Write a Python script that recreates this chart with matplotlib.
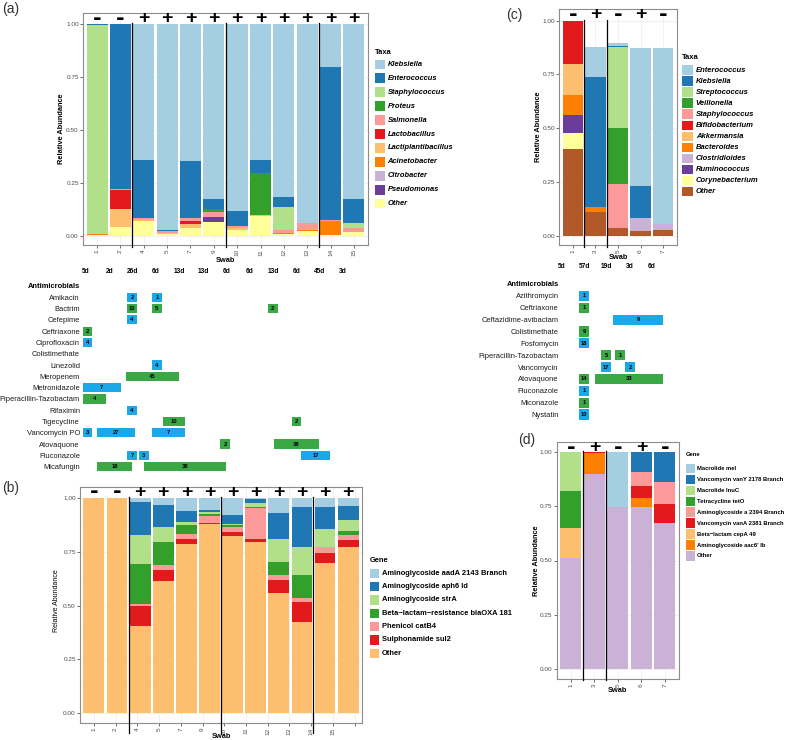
import numpy as np
import matplotlib
matplotlib.use("Agg")
import matplotlib.pyplot as plt
from matplotlib.patches import Rectangle
from matplotlib.transforms import blended_transform_factory

plt.rcParams['font.family'] = ['Liberation Sans', 'DejaVu Sans']

# ---------------- Panel (a) data ----------------
a_swabs = ["1", "2", "4", "5", "7", "9", "10", "11", "12", "13", "14", "15"]
a_signs = ["-", "-", "+", "+", "+", "+", "+", "+", "+", "+", "+", "+"]
a_days = ["5d", "2d", "26d", "6d", "13d", "13d", "6d", "6d", "13d", "6d", "45d", "3d"]
a_taxa = ["Klebsiella", "Enterococcus", "Staphylococcus", "Proteus", "Salmonella",
          "Lactobacillus", "Lactiplantibacillus", "Acinetobacter", "Citrobacter",
          "Pseudomonas", "Other"]
a_colors = ["#A6CEE3", "#1F78B4", "#B2DF8A", "#33A02C", "#FB9A99", "#E31A1C",
            "#FDBF6F", "#FF7F00", "#CAB2D6", "#6A3D9A", "#FFFF99"]
a_klebsiella = [0, 0, 0.643, 0.974, 0.647, 0.824, 0.882, 0.643, 0.817, 0.938, 0.200, 0.827]
a_enterococcus = [0.005, 0.778, 0.273, 0.002, 0.268, 0.047, 0.069, 0.061, 0.048, 0.002, 0.725, 0.110]
a_staphylococcus = [0.986, 0, 0, 0, 0, 0.004, 0, 0, 0.107, 0, 0, 0.025]
a_proteus = [0, 0, 0, 0, 0, 0.012, 0, 0.197, 0, 0, 0, 0]
a_salmonella = [0, 0.004, 0.008, 0.010, 0.013, 0.026, 0.014, 0, 0.012, 0.032, 0.004, 0.018]
a_lactobacillus = [0, 0.089, 0, 0, 0.017, 0, 0, 0, 0, 0, 0, 0]
a_lactiplantibacillus = [0, 0.086, 0.006, 0.006, 0.018, 0, 0.007, 0.005, 0, 0, 0, 0]
a_acinetobacter = [0.006, 0, 0, 0, 0, 0, 0, 0, 0.006, 0.006, 0.066, 0]
a_citrobacter = [0, 0, 0, 0, 0, 0, 0, 0, 0, 0, 0, 0]
a_pseudomonas = [0, 0, 0, 0, 0, 0.019, 0, 0, 0, 0, 0, 0]
a_other = [0.003, 0.043, 0.070, 0.008, 0.037, 0.068, 0.028, 0.094, 0.010, 0.022, 0.005, 0.020]

# Antimicrobial timeline (a): positions in swab-axis units
a_drugs = ["Amikacin", "Bactrim", "Cefepime", "Ceftriaxone", "Ciprofloxacin", "Colistimethate",
           "Linezolid", "Meropenem", "Metronidazole", "Piperacillin-Tazobactam", "Rifaximin",
           "Tigecycline", "Vancomycin PO", "Atovaquone", "Fluconazole", "Micafungin"]
a_tl_drug = ["Amikacin", "Amikacin", "Bactrim", "Bactrim", "Bactrim", "Cefepime", "Ceftriaxone",
             "Ciprofloxacin", "Linezolid", "Meropenem", "Metronidazole", "Piperacillin-Tazobactam",
             "Rifaximin", "Tigecycline", "Tigecycline", "Vancomycin PO", "Vancomycin PO",
             "Vancomycin PO", "Atovaquone", "Atovaquone", "Fluconazole", "Fluconazole",
             "Fluconazole", "Micafungin", "Micafungin"]
a_tl_start = [1.29, 2.35, 1.29, 2.35, 7.31, 1.29, -0.62, -0.62, 2.35, 1.24, -0.62, -0.62,
              1.29, 2.81, 8.33, -0.62, 0.01, 2.35, 5.27, 7.56, 1.29, 1.80, 8.75, 0.01, 2.00]
a_tl_end = [1.71, 2.77, 1.71, 2.77, 7.73, 1.71, -0.20, -0.20, 2.77, 3.49, 1.03, 0.40,
            1.71, 3.75, 8.75, -0.20, 1.62, 3.75, 5.70, 9.52, 1.71, 2.22, 9.98, 1.50, 5.53]
a_tl_dose = ["2", "1", "10", "5", "2", "4", "2", "4", "4", "45", "7", "4", "4", "10", "2",
             "3", "27", "7", "2", "38", "7", "3", "17", "18", "38"]
a_tl_kind = ["b", "b", "g", "g", "g", "b", "g", "b", "b", "g", "b", "g", "b", "g", "g",
             "b", "b", "b", "g", "g", "b", "b", "b", "g", "g"]

# ---------------- Panel (b) data ----------------
b_swabs = a_swabs
b_tick_labels = ["1", "2", "4", "5", "7", "9", "10", "11", "12", "13", "14", "15", ""]
b_genes = ["Aminoglycoside aadA 2143 Branch", "Aminoglycoside aph6 Id", "Aminoglycoside strA",
           "Beta\u2212lactam\u2212resistance blaOXA 181", "Phenicol catB4", "Sulphonamide sul2", "Other"]
b_colors = ["#A6CEE3", "#1F78B4", "#B2DF8A", "#33A02C", "#FB9A99", "#E31A1C", "#FDBF6F"]
b_aadA = [0, 0, 0.017, 0.030, 0.061, 0.055, 0.079, 0.003, 0.070, 0.042, 0.042, 0.036]
b_aph6 = [0, 0, 0.154, 0.106, 0.051, 0.010, 0.041, 0.020, 0.120, 0.185, 0.103, 0.065]
b_strA = [0, 0, 0.136, 0.070, 0.011, 0.010, 0.004, 0.019, 0.109, 0.130, 0.081, 0.052]
b_blaOXA = [0, 0, 0.187, 0.106, 0.044, 0.008, 0.008, 0.002, 0.061, 0.110, 0.000, 0.017]
b_catB4 = [0, 0, 0.010, 0.023, 0.025, 0.034, 0.027, 0.146, 0.019, 0.016, 0.028, 0.026]
b_sul2 = [0, 0, 0.092, 0.050, 0.023, 0.005, 0.019, 0.013, 0.062, 0.096, 0.050, 0.033]
b_other = [1.0, 1.0, 0.404, 0.615, 0.785, 0.878, 0.822, 0.797, 0.559, 0.421, 0.696, 0.771]

# ---------------- Panel (c) data ----------------
c_swabs = ["1", "3", "5", "6", "7"]
c_signs = ["-", "+", "-", "+", "-"]
c_days = ["5d", "57d", "19d", "3d", "6d"]
c_taxa = ["Enterococcus", "Klebsiella", "Streptococcus", "Veillonella", "Staphylococcus",
          "Bifidobacterium", "Akkermansia", "Bacteroides", "Clostridioides", "Ruminococcus",
          "Corynebacterium", "Other"]
c_colors = ["#A6CEE3", "#1F78B4", "#B2DF8A", "#33A02C", "#FB9A99", "#E31A1C", "#FDBF6F",
            "#FF7F00", "#CAB2D6", "#6A3D9A", "#FFFF99", "#B15928"]
c_enterococcus = [0, 0.140, 0.012, 0.643, 0.821]
c_klebsiella = [0, 0.604, 0.004, 0.147, 0]
c_streptococcus = [0, 0, 0.378, 0, 0]
c_veillonella = [0, 0, 0.262, 0, 0]
c_staphylococcus = [0, 0, 0.203, 0, 0]
c_bifidobacterium = [0.203, 0, 0, 0, 0]
c_akkermansia = [0.141, 0, 0, 0, 0]
c_bacteroides = [0.096, 0.022, 0, 0, 0]
c_clostridioides = [0, 0, 0, 0.062, 0.027]
c_ruminococcus = [0.081, 0, 0, 0, 0]
c_corynebacterium = [0.077, 0, 0, 0, 0]
c_other = [0.402, 0.110, 0.036, 0.022, 0.026]

c_drugs = ["Azithromycin", "Ceftriaxone", "Ceftazidime-avibactam", "Colistimethate", "Fosfomycin",
           "Piperacillin-Tazobactam", "Vancomycin", "Atovaquone", "Fluconazole", "Miconazole", "Nystatin"]
c_tl_drug = ["Azithromycin", "Ceftriaxone", "Ceftazidime-avibactam", "Colistimethate", "Fosfomycin",
             "Piperacillin-Tazobactam", "Piperacillin-Tazobactam", "Vancomycin", "Vancomycin",
             "Atovaquone", "Atovaquone", "Fluconazole", "Miconazole", "Nystatin"]
c_tl_start = [0.29, 0.29, 1.79, 0.29, 0.29, 1.26, 1.86, 1.26, 2.33, 0.29, 0.97, 0.29, 0.29, 0.29]
c_tl_end = [0.73, 0.73, 4.01, 0.73, 0.73, 1.70, 2.30, 1.70, 2.77, 0.73, 4.01, 0.73, 0.73, 0.73]
c_tl_dose = ["1", "1", "9", "9", "18", "5", "1", "17", "2", "14", "33", "1", "1", "10"]
c_tl_kind = ["b", "g", "b", "g", "b", "g", "g", "b", "b", "g", "g", "b", "g", "b"]

# ---------------- Panel (d) data ----------------
d_swabs = ["1", "3", "5", "6", "7"]
d_signs = ["-", "+", "-", "+", "-"]
d_genes = ["Macrolide mel", "Vancomycin vanY 2178 Branch", "Macrolide lnuC", "Tetracycline tetO",
           "Aminoglycoside a 2394 Branch", "Vancomycin vanA 2381 Branch", "Beta\u2212lactam cepA 49",
           "Aminoglycoside aac6' Ib", "Other"]
d_colors = ["#A6CEE3", "#1F78B4", "#B2DF8A", "#33A02C", "#FB9A99", "#E31A1C", "#FDBF6F",
            "#FF7F00", "#CAB2D6"]
d_mel = [0, 0, 0.253, 0, 0]
d_vanY = [0, 0, 0, 0.089, 0.139]
d_lnuC = [0.177, 0, 0, 0, 0]
d_tetO = [0.171, 0, 0, 0, 0]
d_a2394 = [0, 0, 0, 0.065, 0.100]
d_vanA = [0, 0.005, 0, 0.056, 0.088]
d_cepA = [0.142, 0, 0, 0, 0]
d_aac6 = [0, 0.095, 0, 0.043, 0]
d_other = [0.510, 0.900, 0.747, 0.747, 0.673]

kind_colors = {"b": "#1BA8E8", "g": "#39A845"}

# ---------------- Figure ----------------
W, H = 789, 740
fig = plt.figure(figsize=(W / 100, H / 100), dpi=100)


def px_axes(left, top, right, bottom):
    return fig.add_axes([left / W, 1 - bottom / H, (right - left) / W, (bottom - top) / H])


def stacked(ax, layers, colors):
    n = len(layers[0])
    x = np.arange(n)
    bottom = np.zeros(n)
    for vals, col in zip(layers, colors):
        v = np.array(vals, dtype=float)
        ax.bar(x, v, 0.9, bottom=bottom, color=col, linewidth=0, zorder=2)
        bottom += v


def style_bar_axes(ax, n, ylo, yhi, tick_pos, tick_labels):
    ax.set_xlim(-0.6, n - 0.4)
    ax.set_ylim(ylo, yhi)
    yt = [0, 0.25, 0.5, 0.75, 1.0]
    ax.set_yticks(yt)
    ax.set_yticklabels(["0.00", "0.25", "0.50", "0.75", "1.00"], fontsize=4.6, color="#4D4D4D")
    for y in yt:
        ax.axhline(y, color="#EBEBEB", lw=0.5, zorder=0)
    for y in [0.125, 0.375, 0.625, 0.875]:
        ax.axhline(y, color="#F3F3F3", lw=0.3, zorder=0)
    for xp in tick_pos:
        ax.axvline(xp, color="#EBEBEB", lw=0.5, zorder=0)
    ax.set_xticks(tick_pos)
    ax.set_xticklabels(tick_labels, rotation=90, fontsize=4.6, color="#4D4D4D")
    for s in ax.spines.values():
        s.set_color("#8C8C8C")
        s.set_linewidth(0.8)
    ax.tick_params(length=2.2, width=0.5, color="#333333", pad=0.8)


def signs(ax, sg, y):
    for i, s in enumerate(sg):
        if s == "+":
            ax.text(i, y, "+", fontsize=14, fontweight="bold", ha="center", va="center",
                    family="Liberation Sans", zorder=5)
        else:
            ax.text(i, y, "-", fontsize=15, fontweight="bold", ha="center", va="center",
                    family="DejaVu Sans", zorder=5)


def vlines(ax, xs, ylo):
    for xv in xs:
        ax.plot([xv, xv], [ylo, 1.005], color="black", lw=0.9, clip_on=False, zorder=4)


def axis_labels(ax, xl_y, yl_x, yl_y=0.5, ybold=True):
    ax.text(0.5, xl_y, "Swab", transform=ax.transAxes, ha="center", va="center",
            fontsize=5.3, fontweight="bold")
    ax.text(yl_x, yl_y, "Relative Abundance", transform=ax.transAxes, ha="center", va="center",
            rotation=90, fontsize=5.3 if ybold else 5.0,
            fontweight="bold" if ybold else "normal")


def day_labels(ax, days, offset, y):
    tr = blended_transform_factory(ax.transData, ax.transAxes)
    for i, d in enumerate(days):
        ax.text(i + offset, y, d, transform=tr, ha="center", va="center", fontsize=4.8,
                fontweight="bold", clip_on=False)


def draw_timeline(ax, drugs, tl_drug, tl_start, tl_end, tl_dose, tl_kind, xlim, ylim, pad, h):
    ax.set_xlim(xlim)
    ax.set_ylim(ylim)
    for d, s, e, lab, k in zip(tl_drug, tl_start, tl_end, tl_dose, tl_kind):
        r = drugs.index(d) + 1
        ax.add_patch(Rectangle((s, r - h / 2), e - s, h, facecolor=kind_colors[k],
                               edgecolor="none", clip_on=False))
        ax.text((s + e) / 2, r, lab, fontsize=4.2, fontweight="bold", ha="center", va="center")
    ax.set_yticks(range(len(drugs) + 1))
    ax.set_yticklabels(["Antimicrobials"] + drugs, fontsize=5.4, color="#1A1A1A")
    ax.get_yticklabels()[0].set_fontweight("bold")
    ax.get_yticklabels()[0].set_color("black")
    ax.tick_params(axis="y", length=0, pad=pad)
    ax.set_xticks([])
    for s in ax.spines.values():
        s.set_visible(False)
    ax.patch.set_alpha(0)


# ----- Panel (a) -----
axA = px_axes(83, 13, 368, 245)
stacked(axA, [a_other, a_pseudomonas, a_citrobacter, a_acinetobacter, a_lactiplantibacillus,
              a_lactobacillus, a_salmonella, a_proteus, a_staphylococcus, a_enterococcus,
              a_klebsiella], a_colors[::-1])
style_bar_axes(axA, len(a_swabs), -0.043, 1.053, list(range(len(a_swabs))), a_swabs)
signs(axA, a_signs, 1.025)
vlines(axA, [1.5, 5.5, 9.5], -0.052)
axis_labels(axA, -0.065, -0.074)
day_labels(axA, a_days, -0.47, -0.116)

tlA = px_axes(83, 280, 368, 472)
draw_timeline(tlA, a_drugs, a_tl_drug, a_tl_start, a_tl_end, a_tl_dose, a_tl_kind,
              (-0.6, len(a_swabs) - 0.4), (16.47, -0.53), 2.2, 0.82)

# ----- Panel (b) -----
axB = px_axes(80, 487.3, 362, 723.3)
stacked(axB, [b_other, b_sul2, b_catB4, b_blaOXA, b_strA, b_aph6, b_aadA], b_colors[::-1])
style_bar_axes(axB, len(b_swabs), -0.049, 1.051, list(np.arange(13) * 0.94), b_tick_labels)
signs(axB, a_signs, 1.028)
vlines(axB, [1.5, 5.5, 9.5], -0.095)
axis_labels(axB, -0.058, -0.082, 0.518, ybold=False)

# ----- Panel (c) -----
axC = px_axes(559.3, 9.3, 676.7, 245)
stacked(axC, [c_other, c_corynebacterium, c_ruminococcus, c_clostridioides, c_bacteroides,
              c_akkermansia, c_bifidobacterium, c_staphylococcus, c_veillonella,
              c_streptococcus, c_klebsiella, c_enterococcus], c_colors[::-1])
style_bar_axes(axC, len(c_swabs), -0.043, 1.053, list(range(len(c_swabs))), c_swabs)
signs(axC, c_signs, 1.027)
vlines(axC, [0.5, 1.5], -0.051)
axis_labels(axC, -0.054, -0.181)
day_labels(axC, c_days, -0.5, -0.092)

tlC = px_axes(559.3, 278, 676.7, 420)
draw_timeline(tlC, c_drugs, c_tl_drug, c_tl_start, c_tl_end, c_tl_dose, c_tl_kind,
              (-0.6, len(c_swabs) - 0.4), (11.46, -0.505), 0.5, 0.85)

# ----- Panel (d) -----
axD = px_axes(556.7, 441.7, 679, 679.3)
stacked(axD, [d_other, d_aac6, d_cepA, d_vanA, d_a2394, d_tetO, d_lnuC, d_vanY, d_mel],
        d_colors[::-1])
style_bar_axes(axD, len(d_swabs), -0.049, 1.049, list(range(len(d_swabs))), d_swabs)
signs(axD, d_signs, 1.022)
vlines(axD, [0.5, 1.5], -0.052)
axis_labels(axD, -0.049, -0.164)

# ----- Legends and panel tags (pixel-space overlay) -----
ov = fig.add_axes([0, 0, 1, 1])
ov.set_xlim(0, W)
ov.set_ylim(H, 0)
ov.axis("off")
ov.patch.set_alpha(0)


def legend_block(title, labels, colors, x, y_title, y0, dy, kw, kh, fs, style, gap=2.5):
    ov.text(x, y_title, title, fontsize=fs, fontweight="bold", va="center", ha="left")
    for i, (lab, col) in enumerate(zip(labels, colors)):
        y = y0 + i * dy
        ov.add_patch(Rectangle((x, y - kh / 2), kw, kh, facecolor=col, edgecolor="none"))
        ov.text(x + kw + gap, y, lab, fontsize=fs, fontweight="bold", fontstyle=style,
                va="center", ha="left")


legend_block("Taxa", a_taxa, a_colors, 375, 52.7, 64.3, 13.94, 10, 9.5, 5.4, "italic")
legend_block("Gene", b_genes, b_colors, 370, 560, 573.3, 13.33, 9.5, 9.5, 5.4, "normal")
legend_block("Taxa", c_taxa, c_colors, 681.7, 57.3, 70, 11.03, 11.5, 9.3, 5.5, "italic")
legend_block("Gene", d_genes, d_colors, 685.7, 455, 468.3, 10.96, 9.3, 9.3, 4.2, "normal", gap=2.0)

for tag, xx, yy in [("(a)", 2, 9), ("(b)", 2, 488), ("(c)", 506, 15), ("(d)", 518, 440)]:
    ov.text(xx, yy, tag, fontsize=10, ha="left", va="center", color="#333333")

fig.savefig("out.png", dpi=100)
